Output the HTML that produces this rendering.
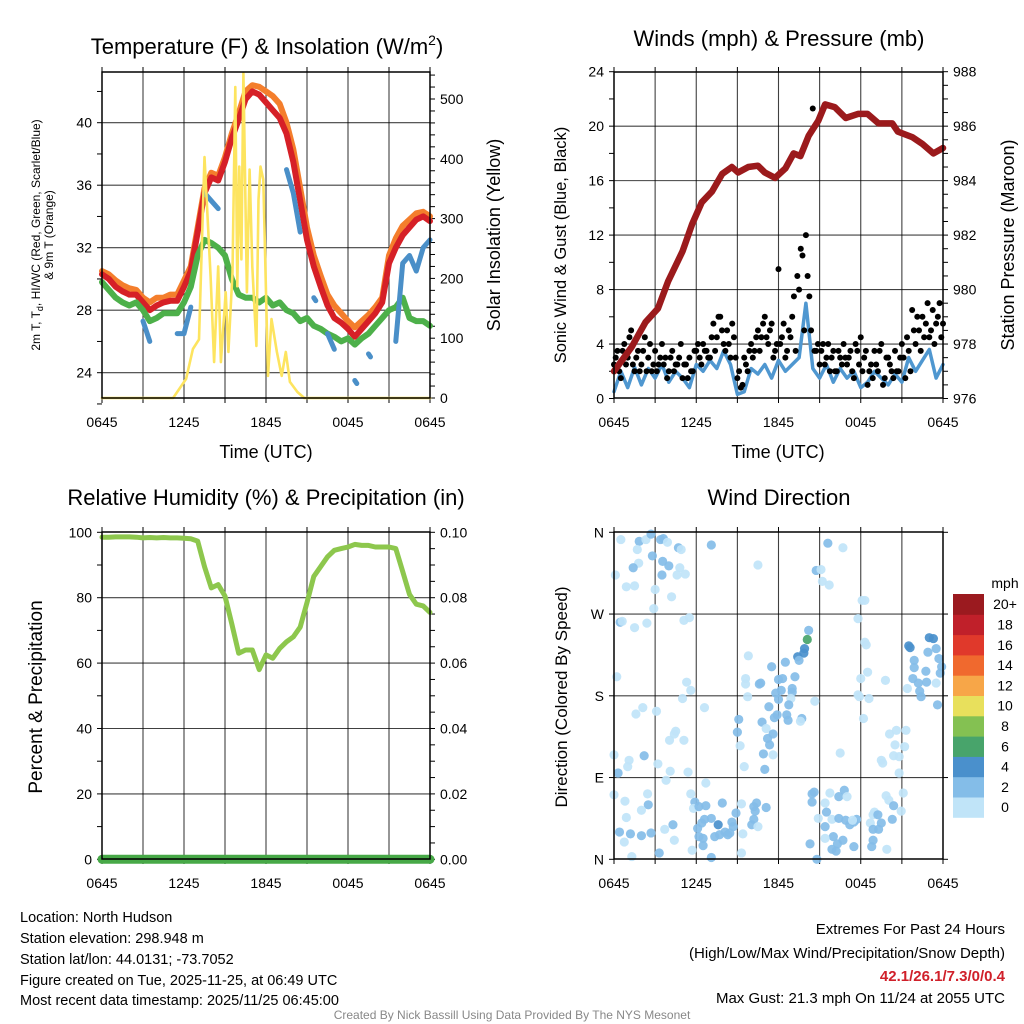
<!DOCTYPE html>
<html><head><meta charset="utf-8"><style>
html,body{margin:0;padding:0;background:#fff;}
svg{display:block;font-family:"Liberation Sans",sans-serif;}
</style></head><body>
<svg id="chart" width="1024" height="1024" viewBox="0 0 1024 1024" xmlns="http://www.w3.org/2000/svg">
<text x="267" y="54" font-size="22" text-anchor="middle">Temperature (F) &amp; Insolation (W/m<tspan font-size="14" dy="-9">2</tspan><tspan dy="9">)</tspan></text>
<text x="779" y="46" font-size="22" text-anchor="middle">Winds (mph) &amp; Pressure (mb)</text>
<text x="266" y="505" font-size="22" text-anchor="middle">Relative Humidity (%) &amp; Precipitation (in)</text>
<text x="779" y="505" font-size="22" text-anchor="middle">Wind Direction</text>

<text transform="translate(40,235) rotate(-90)" font-size="12" text-anchor="middle">2m T, T<tspan font-size="9" dy="3">d</tspan><tspan dy="-3">, HI/WC (Red, Green, Scarlet/Blue)</tspan></text>
<text transform="translate(53,235) rotate(-90)" font-size="12" text-anchor="middle">&amp; 9m T (Orange)</text>
<text transform="translate(500,235) rotate(-90)" font-size="18" text-anchor="middle">Solar Insolation (Yellow)</text>
<text transform="translate(566,245) rotate(-90)" font-size="16.5" text-anchor="middle">Sonic Wind &amp; Gust (Blue, Black)</text>
<text transform="translate(1014,245) rotate(-90)" font-size="18" text-anchor="middle">Station Pressure (Maroon)</text>
<text transform="translate(42,697) rotate(-90)" font-size="19" text-anchor="middle">Percent &amp; Precipitation</text>
<text transform="translate(567,697) rotate(-90)" font-size="17" text-anchor="middle">Direction (Colored By Speed)</text>
<text x="266" y="458" font-size="18" text-anchor="middle">Time (UTC)</text>
<text x="778" y="458" font-size="18" text-anchor="middle">Time (UTC)</text>

<g font-size="14.5">
<text x="20" y="922">Location: North Hudson</text>
<text x="20" y="943">Station elevation: 298.948 m</text>
<text x="20" y="964">Station lat/lon: 44.0131; -73.7052</text>
<text x="20" y="985">Figure created on Tue, 2025-11-25, at 06:49 UTC</text>
<text x="20" y="1005">Most recent data timestamp: 2025/11/25 06:45:00</text>
</g>
<g font-size="15" text-anchor="end">
<text x="1005" y="934">Extremes For Past 24 Hours</text>
<text x="1005" y="958">(High/Low/Max Wind/Precipitation/Snow Depth)</text>
<text x="1005" y="981" fill="#d0202a" font-weight="bold">42.1/26.1/7.3/0/0.4</text>
<text x="1005" y="1003">Max Gust: 21.3 mph On 11/24 at 2055 UTC</text>
</g>
<text x="512" y="1019" font-size="12" fill="#888" text-anchor="middle">Created By Nick Bassill Using Data Provided By The NYS Mesonet</text>
<text x="1005" y="588" font-size="14" text-anchor="middle">mph</text>
</svg>
<script>
// ---------- data ----------
const timeLabels = ["0645","1245","1845","0045","0645"];
const tempTicks = [24,28,32,36,40];
const solarTicks = [0,100,200,300,400,500];
const windTicks = [0,4,8,12,16,20,24];
const presTicks = [976,978,980,982,984,986,988];
const rhTicks = [0,20,40,60,80,100];
const precipTicks = ["0.00","0.02","0.04","0.06","0.08","0.10"];
const dirTicks = ["N","E","S","W","N"];
const speedBins = ["0","2","4","6","8","10","12","14","16","18","20+"];
const speedColors = ["#c0e4f8","#84bde8","#4a90cc","#48a46b","#84c152","#e8e05c","#f7a648","#f0692e","#e0392b","#c0202a","#9b1a1f"];

const temp2m = [30.3,30.0,29.5,29.2,29.0,29.0,28.5,28.0,28.3,28.5,28.6,28.6,29.5,30.5,33.0,35.5,36.5,36.3,37.5,39.0,40.2,41.5,42.0,41.8,41.3,40.8,40.3,39.3,37.5,35.0,32.5,30.8,29.5,28.3,27.5,27.2,26.8,26.3,26.8,27.3,27.8,28.5,31.0,32.0,32.8,33.3,33.8,34.0,33.7];
const temp9m = [30.5,30.3,29.9,29.6,29.4,29.3,28.8,28.5,28.8,28.8,29.0,29.0,29.9,30.8,33.3,35.8,36.8,36.6,37.8,39.3,40.6,42.0,42.4,42.3,42.0,41.7,41.2,40.0,38.3,35.8,33.3,31.5,30.2,29.0,28.3,27.8,27.3,26.9,27.3,27.7,28.2,28.8,31.5,32.6,33.4,33.8,34.2,34.3,34.0];
const dewpoint = [29.8,29.3,28.8,28.5,28.3,28.5,28.0,27.3,27.5,27.8,27.8,27.8,28.5,29.5,31.5,32.5,32.3,32.0,31.5,30.0,29.0,28.8,28.8,28.5,28.8,28.3,28.5,28.0,27.8,27.3,27.5,27.0,26.8,26.5,26.3,26.0,26.2,25.8,26.2,26.5,27.0,27.5,28.0,28.2,28.8,27.5,27.3,27.3,27.0];
const windChill = [null,null,null,null,null,null,27.3,26.0,null,null,null,26.5,26.5,28.2,null,35.5,35.0,34.5,null,null,null,null,null,null,null,null,null,37.0,35.5,33.0,null,28.8,null,26.5,25.5,null,null,23.5,null,25.2,null,null,null,26.0,31.0,31.5,30.5,32.0,32.5];
const solarHours = [0,5.2,6.15,6.65,7.1,7.5,7.95,8.2,8.5,8.7,9.05,9.25,9.55,9.75,9.9,10.05,10.2,10.35,10.6,10.8,11.0,11.3,11.45,11.6,11.8,12.0,12.15,12.4,12.8,13.15,13.45,13.75,14.3,14.8,24];
const solarValues = [0,0,32,82,98,403,203,60,220,60,177,77,210,520,187,387,232,543,177,382,220,87,332,387,365,177,37,132,77,37,77,27,10,0,0];
const presHours = [0,1.3,2.3,3.2,3.95,5,5.7,6.4,7.15,7.9,8.6,9.05,9.8,10.5,11,11.75,12.5,13.1,13.6,14.2,14.9,15.4,16.1,16.9,17.8,18.5,19.3,20.3,20.7,21.75,22.5,23.3,24];
const presValues = [977.0,977.9,978.8,979.3,980.3,981.4,982.4,983.2,983.6,984.25,984.5,984.3,984.5,984.55,984.3,984.1,984.45,985.0,984.9,985.65,986.2,986.8,986.7,986.3,986.45,986.45,986.1,986.1,985.8,985.6,985.35,985.0,985.2];
const windSpeed = [0.5,2.0,0.8,2.3,1.0,2.2,1.5,2.5,1.2,2.0,1.5,0.8,2.5,2.0,2.8,2.2,3.5,2.5,0.3,0.5,2.2,1.8,2.5,1.5,2.8,2.0,2.5,3.0,7.0,2.2,1.5,2.5,1.2,2.2,1.5,2.0,0.8,1.2,2.0,1.5,1.0,1.8,1.2,3.0,2.0,2.8,3.6,1.5,2.5];
const gustA = [2.5,3.5,1.5,4.0, 3.0,5.0,2.0,3.5, 2.5,4.5,3.0,2.0, 3.5,2.5,4.0,3.0, 2.0,3.5,2.5,3.0, 1.5,2.5,3.0,2.0, 3.5,3.0,4.0,3.5, 3.0,5.5,4.5,6.0, 4.0,5.0,3.0,4.5, 1.5,0.8,3.0,2.0, 4.0,3.5,5.0,4.5, 6.0,4.0,5.5,3.5, 9.5,4.5,3.0,5.0, 6.0,3.5,8.0,10.5, 12.0,7.5,21.3,3.5, 2.5,4.0,3.0,2.0, 3.5,2.0,3.0,4.0, 2.5,3.5,1.5,3.5, 4.5,3.0,1.0,2.5, 3.5,2.0,4.0,1.5, 3.0,2.0,3.5,2.0, 4.0,1.5,3.5,6.5, 4.0,5.0,6.0,5.5, 4.5,6.5,5.5,7.0, 5.5];
const gustB = [3.0,2.0,3.5,2.5, 4.5,2.5,3.0,2.0, 3.5,2.0,4.0,2.5, 2.0,3.0,2.5,1.5, 3.0,2.0,2.5,4.0, 2.5,1.5,2.0,3.5, 4.0,2.5,3.5,3.0, 4.5,3.5,6.0,5.0, 3.5,4.0,5.5,3.0, 2.0,1.0,2.5,3.5, 3.0,4.5,3.5,5.5, 4.5,5.0,3.0,4.0, 4.0,5.5,3.5,4.5, 7.5,9.0,11.0,5.0, 9.0,5.0,3.5,4.0, 3.5,2.5,4.0,3.0, 2.0,3.5,2.5,3.0, 3.0,2.0,4.0,2.5, 2.0,3.5,2.0,1.5, 2.5,3.5,1.0,3.0, 2.5,1.5,2.0,3.0, 3.0,4.5,2.0,5.0, 6.0,3.5,4.5,7.0, 5.0,4.0,6.0,4.5];
const rh = [98.5,98.5,98.6,98.6,98.6,98.5,98.3,98.4,98.3,98.4,98.3,98.3,98.2,98.0,97.3,89.5,83.0,84.0,80.5,72.0,63.0,64.0,64.0,58.0,62.5,61.5,64.5,66.5,68.0,71.0,78.5,86.5,89.5,92.5,94.5,95.0,95.5,96.3,96.0,96.0,95.5,95.5,95.5,95.0,88.0,81.0,78.0,77.5,75.5];
const precip = [0,0,0,0,0,0,0,0,0,0,0,0,0,0,0,0,0,0,0,0,0,0,0,0,0];
const dirHours = [0.5,1.84,2.33,2.7,3.4,3.6,3.9,4.7,4.9,1.7,2.8,1.8,1.4,3.55,4.0,4.8,3.5,4.6,5.2,0.1,0.9,1.5,3.0,4.2,2.9,7.1,10.5,15.6,16.7,14.75,15.1,15.2,15.7,18.1,18.3,17.8,0.45,0.6,1.5,2.4,5.1,5.5,14.2,14.1,13.9,13.85,13.4,13.5,12.5,9.8,11.5,13.2,12.3,12.0,9.6,9.6,10.7,10.6,12.2,11.8,13.0,13.0,12.9,12.0,9.75,12.75,11.3,14.65,12.6,12.7,11.9,11.7,13.7,13.6,10.8,11.1,9.1,9.0,11.6,11.2,11.35,9.2,10.9,11.6,9.5,11.0,0.2,5.3,5.6,5.0,2.1,1.6,3.1,6.6,4.5,4.4,4.05,5.1,0,1.1,1.0,2.2,3.2,0.3,4.1,5.4,3.8,6.7,
18.5,18.0,19.8,17.8,17.9,18.6,18.2,20.1,20.6,21.3,20.5,21.2,20.4,20.8,19.5,19.6,20.8,16.5,18.4,18.3,21.6,21.5,23.0,23.3,22.9,23.5,21.9,23.7,21.9,23.9,22.75,21.8,22.2,22.8,21.4,22.3,23.5,22.4,23.6,23.8,
0,0.8,2.45,2.5,2.0,0.9,0.4,1.2,2.0,2.7,0.75,3.3,1.3,4.3,3.7,4.4,5.6,5.9,5.8,6.2,6.7,7.9,6.4,6.6,6.1,6.2,6.5,6.5,5.7,7.1,7.1,7.6,7.7,8.1,7.35,8.3,8.6,8.9,8.7,8.45,9.3,9.4,9.3,10.05,10.2,10.2,10.4,10.3,10.5,11.1,14.45,14.6,14.45,15.4,14.9,15.5,15.75,16.4,16.8,17.0,15.9,16.4,16.9,17.2,17.5,17.7,17.4,15.4,16.0,16.7,15.4,14.3,16.3,15.9,16.2,17.5,14.8,18.9,19.0,19.25,19.85,20.05,20.4,20.3,21.1,20.95,18.7,19.5,19.3,18.9,18.9,18.8,19.9];
const dirDegrees = [352,350,352,358,352,353,349,343,341,341,334,326,321,328,323,321,313,313,314,313,300,301,297,289,276,346,324,348,343,318,319,306,302,285,285,265,261,262,255,260,263,266,252,242,232,227,223,219,217,224,212,201,199,198,199,193,194,193,186,183,188,184,177,176,179,170,168,174,159,153,159,156,155,152,151,144,154,140,138,133,126,125,116,115,102,99,201,195,186,177,167,160,163,167,141,138,131,131,115,109,102,114,105,95,97,96,87,84,
206,199,197,181,179,177,155,138,142,142,126,124,114,113,109,106,95,117,236,239,233,235,244,243,228,232,219,221,211,212,207,199,194,195,188,185,194,179,170,205,
71,64,72,60,54,46,30,28,26,29,19,7,3,38,33,21,72,63,56,58,59,62,40,44,34,25,23,15,10,2,45,38,27,30,25,27,41,51,36,29,61,28,7,38,44,58,62,53,36,57,72,74,63,62,45,52,73,69,76,69,44,45,43,38,41,44,43,36,25,21,23,17,17,11,9,14,0,49,52,49,70,65,59,44,73,53,40,40,33,33,21,14,11];
const dirSpeeds = [1,3,1,3,3,3,1,3,1,1,3,1,3,3,3,1,3,1,1,1,1,1,1,1,1,3,1,3,1,3,1,1,1,1,1,1,3,1,1,1,1,1,3,7,5,5,5,3,3,1,3,3,3,3,1,1,3,3,3,3,3,3,1,3,1,3,3,1,3,3,3,3,3,1,3,1,3,3,3,3,3,1,3,1,1,3,1,1,1,1,1,1,1,1,1,1,1,1,1,1,1,3,1,3,1,1,1,1,
1,1,1,1,1,1,1,1,1,1,1,1,1,1,1,1,1,1,1,1,5,5,5,5,3,3,3,3,3,3,3,3,3,3,1,3,1,3,3,3,
1,1,1,3,1,1,3,3,3,3,1,3,1,3,1,1,1,3,1,3,3,3,3,3,3,3,3,3,1,3,3,5,3,3,3,3,3,3,3,3,1,1,1,3,3,3,3,3,1,3,3,3,3,1,1,3,1,3,3,1,1,3,3,3,3,3,1,3,3,3,1,3,3,3,3,3,3,1,1,3,1,1,3,3,1,1,1,3,3,3,3,3,1];

// ---------- drawing ----------
const NS = "http://www.w3.org/2000/svg";
const svg = document.getElementById("chart");
function mk(tag, attrs, parent){
  const el = document.createElementNS(NS, tag);
  for (const k in attrs) el.setAttribute(k, attrs[k]);
  (parent || svg).appendChild(el);
  return el;
}
function scale(d0,d1,r0,r1){ return v => r0 + (v-d0)/(d1-d0)*(r1-r0); }

const P1 = {l:102, r:430, t:72, b:398};
const P2 = {l:614, r:943, t:72, b:398};
const P3 = {l:102, r:430, t:532, b:859};
const P4 = {l:614, r:943, t:532, b:859};

function frame(P, name){
  const g = mk("g", {});
  
  
  const X = scale(0,24,P.l,P.r);
  for (let h = 3; h < 24; h += 3){
    const ln = mk("line", {x1:X(h), x2:X(h), y1:P.t, y2:P.b, stroke:"#000", "stroke-width":1.1, "stroke-opacity":0.75}, g);
    
    
  }
  for (let h = 0; h <= 24; h += 3){
    const tk = mk("line", {x1:X(h), x2:X(h), y1:P.b, y2:P.b+5, stroke:"#000"}, g);
    
    
    const tk2 = mk("line", {x1:X(h), x2:X(h), y1:P.t-5, y2:P.t, stroke:"#000"}, g);
    
    
  }
  timeLabels.forEach((lab, i) => {
    const t = mk("text", {x:X(i*6), y:P.b+29, "font-size":14, "text-anchor":"middle"}, g);
    
    
    t.textContent = lab;
  });
  return {g, X};
}
function hgrid(g, P, Y, vals){
  vals.forEach(v => {
    const y = Y(v);
    if (y <= P.t + 0.5 || y >= P.b - 0.5) return;
    const ln = mk("line", {x1:P.l, x2:P.r, y1:y, y2:y, stroke:"#000", "stroke-width":1.1, "stroke-opacity":0.75}, g);
    
    
  });
}
function yTicks(g, P, Y, from, to, step, side){
  for (let v = from; v <= to + 1e-9; v += step){
    const y = Y(v);
    const x = side === "left" ? P.l : P.r;
    const d = side === "left" ? -5 : 5;
    const tk = mk("line", {x1:x, x2:x+d, y1:y, y2:y, stroke:"#000"}, g);
    
    
  }
}
function yLabels(g, P, Y, vals, labels, side){
  vals.forEach((v, i) => {
    const t = mk("text", {x: side==="left" ? P.l-10 : P.r+10, y:Y(v)+5, "font-size":14, "text-anchor": side==="left" ? "end" : "start"}, g);
    
    
    t.textContent = labels[i];
  });
}
function border(g, P){
  const r = mk("rect", {x:P.l, y:P.t, width:P.r-P.l, height:P.b-P.t, fill:"none", stroke:"#000", "stroke-width":1.5}, g);
  
  
}
function polyline(g, xs, ys, X, Y, style, name){
  let segs = [], cur = [];
  for (let i = 0; i < ys.length; i++){
    if (ys[i] === null){ if (cur.length) segs.push(cur); cur = []; }
    else cur.push([X(xs[i]), Y(ys[i])]);
  }
  if (cur.length) segs.push(cur);
  segs.forEach(s => {
    if (s.length === 1) s.push([s[0][0]+2, s[0][1]+3]);
    const p = mk("polyline", Object.assign({points: s.map(q => q[0].toFixed(1)+","+q[1].toFixed(1)).join(" "), fill:"none", "stroke-linejoin":"round", "stroke-linecap":"round"}, style), g);
    
    
  });
}
const halfHours = temp2m.map((_, i) => i/2);

{
  const {g, X} = frame(P1, "temperature");
  const Y = scale(24, 40, 372.7, 122.7);
  const YS = scale(0, 500, 398, 99);
  hgrid(g, P1, Y, tempTicks);
  yTicks(g, P1, Y, 22, 42, 2, "left");
  yTicks(g, P1, YS, 0, 540, 20, "right");
  yLabels(g, P1, Y, tempTicks, tempTicks.map(String), "left");
  yLabels(g, P1, YS, solarTicks, solarTicks.map(String), "right");
  polyline(g, halfHours, temp9m, X, Y, {stroke:"#f47e2c", "stroke-width":6}, "temp-9m-line");
  polyline(g, halfHours, temp2m, X, Y, {stroke:"#d62027", "stroke-width":6}, "temp-2m-line");
  polyline(g, halfHours, dewpoint, X, Y, {stroke:"#4db04a", "stroke-width":6}, "dewpoint-line");
  polyline(g, halfHours, windChill, X, Y, {stroke:"#4a8fc8", "stroke-width":5}, "wind-chill-line");
  polyline(g, solarHours, solarValues, X, YS, {stroke:"#fde45f", "stroke-width":2.6}, "solar-insolation-line");
  border(g, P1);
}
{
  const {g, X} = frame(P2, "winds");
  const Y = scale(0, 24, 398.5, 71.7);
  const YP = scale(976, 988, 398.5, 71.7);
  hgrid(g, P2, Y, windTicks);
  yTicks(g, P2, Y, 0, 24, 2, "left");
  yTicks(g, P2, YP, 976, 988, 0.5, "right");
  yLabels(g, P2, Y, windTicks, windTicks.map(String), "left");
  yLabels(g, P2, YP, presTicks, presTicks.map(String), "right");
  polyline(g, halfHours, windSpeed, X, Y, {stroke:"#4f97d0", "stroke-width":3.5}, "sonic-wind-line");
  [gustA, gustB].forEach((arr, k) => {
    arr.forEach((v, i) => {
      const c = mk("circle", {cx:X(i*0.25 + k*0.125), cy:Y(v), r:3, fill:"#000"}, g);
      
      
    });
  });
  polyline(g, presHours, presValues, X, YP, {stroke:"#9b1a1c", "stroke-width":6.5}, "pressure-line");
  border(g, P2);
}
{
  const {g, X} = frame(P3, "humidity");
  const Y = scale(0, 100, 859.3, 532.3);
  hgrid(g, P3, Y, rhTicks);
  yTicks(g, P3, Y, 0, 100, 10, "left");
  yTicks(g, P3, Y, 0, 100, 5, "right");
  yLabels(g, P3, Y, rhTicks, rhTicks.map(String), "left");
  yLabels(g, P3, Y, rhTicks, precipTicks, "right");
  polyline(g, halfHours, rh, X, Y, {stroke:"#8dc74d", "stroke-width":5}, "relative-humidity-line");
  const YPr = scale(0, 0.1, 859.3, 532.3);
  polyline(g, precip.map((_, i) => i), precip, X, YPr, {stroke:"#47a947", "stroke-width":9}, "precipitation-line");
  border(g, P3);
}
{
  const {g, X} = frame(P4, "wind-direction");
  const Y = scale(0, 360, 859.3, 532.3);
  const dv = [0,90,180,270,360];
  hgrid(g, P4, Y, dv);
  yTicks(g, P4, Y, 0, 360, 90, "left");
  yTicks(g, P4, Y, 0, 360, 90, "right");
  yLabels(g, P4, Y, dv, dirTicks, "left");
  dirHours.forEach((h, i) => {
    const bin = Math.min(10, Math.floor(dirSpeeds[i] / 2));
    const c = mk("circle", {cx:X(h), cy:Y(dirDegrees[i]), r:4.6, fill:speedColors[bin], "fill-opacity":0.92}, g);
    
    
  });
  border(g, P4);
  const cb = mk("g", {});
  
  
  const bh = 20.3, top = 594;
  speedBins.forEach((lab, i) => {
    const k = speedBins.length - 1 - i;
    const r = mk("rect", {x:953, y:top + k*bh, width:31, height:bh+0.5, fill:speedColors[i]}, cb);
    
    
    const t = mk("text", {x:1005, y:top + k*bh + bh/2 + 5, "font-size":14, "text-anchor":"middle"}, cb);
    
    
    t.textContent = lab;
  });
}
</script>
</body></html>
